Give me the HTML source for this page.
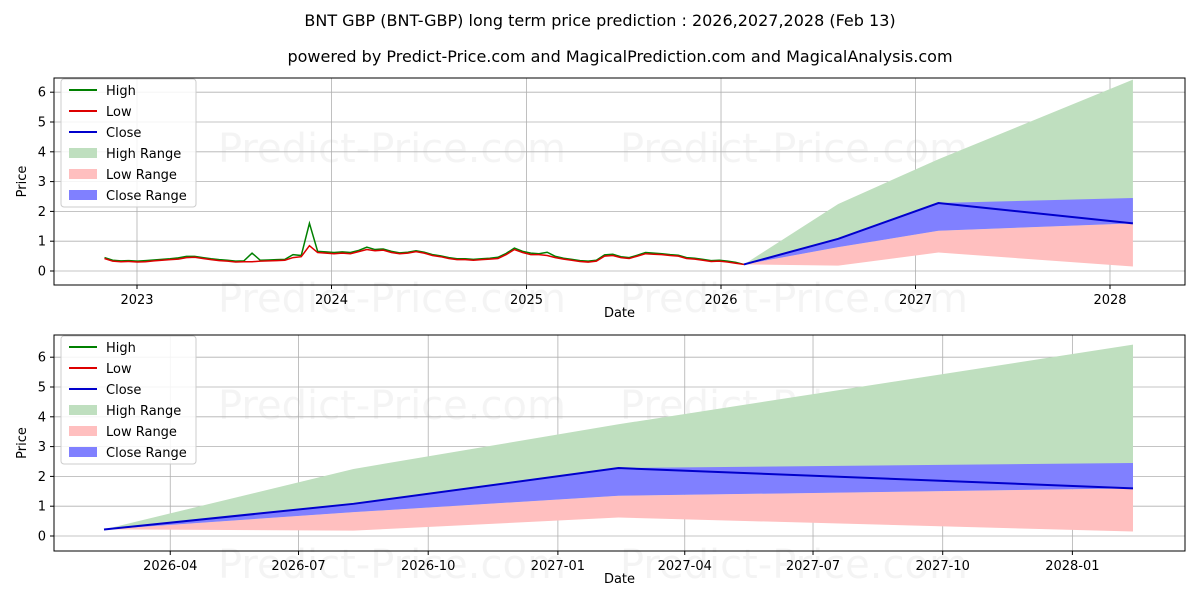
<!DOCTYPE html>
<html><head><meta charset="utf-8"><style>
body{margin:0;background:#fff;}
svg text{font-family:"DejaVu Sans","Liberation Sans",sans-serif;}
</style></head><body>
<svg id="svg" width="1200" height="600" xmlns="http://www.w3.org/2000/svg">
<rect width="1200" height="600" fill="#fff"/>
<text x="600" y="26" font-size="16" text-anchor="middle">BNT GBP (BNT-GBP) long term price prediction : 2026,2027,2028 (Feb 13)</text>
<text x="620" y="62" font-size="16" text-anchor="middle">powered by Predict-Price.com and MagicalPrediction.com and MagicalAnalysis.com</text>
<g id="top"></g>
<g id="bot"></g>
</svg>
<script>
const histStart = "2022-11-01";
const histEnd = "2026-02-13";
const histLow = [0.42,0.33,0.31,0.32,0.30,0.31,0.34,0.36,0.38,0.40,0.45,0.46,0.42,0.38,0.35,0.33,0.30,0.31,0.31,0.33,0.34,0.35,0.36,0.45,0.48,0.85,0.62,0.60,0.58,0.60,0.58,0.65,0.72,0.68,0.70,0.62,0.58,0.60,0.65,0.60,0.52,0.48,0.42,0.38,0.38,0.36,0.38,0.40,0.42,0.55,0.72,0.62,0.55,0.55,0.52,0.45,0.40,0.36,0.32,0.30,0.33,0.50,0.52,0.45,0.42,0.50,0.58,0.56,0.55,0.52,0.50,0.42,0.40,0.36,0.32,0.33,0.30,0.26,0.22];
const histHigh = [0.45,0.36,0.34,0.35,0.33,0.35,0.37,0.39,0.41,0.44,0.49,0.49,0.45,0.41,0.38,0.36,0.33,0.34,0.60,0.36,0.37,0.38,0.39,0.55,0.52,1.60,0.66,0.64,0.62,0.64,0.62,0.69,0.80,0.72,0.74,0.66,0.61,0.63,0.68,0.63,0.55,0.51,0.45,0.41,0.41,0.39,0.41,0.43,0.46,0.59,0.77,0.66,0.60,0.58,0.63,0.49,0.43,0.39,0.35,0.33,0.36,0.54,0.56,0.48,0.45,0.53,0.62,0.60,0.58,0.55,0.53,0.45,0.43,0.39,0.35,0.36,0.33,0.29,0.22];
const fcDates = ["2026-02-13","2026-08-09","2027-02-13","2028-02-13"];
const fcHigh = [0.22,2.25,3.75,6.42];
const fcClose = [0.22,1.08,2.28,1.60];
const fcCloseHi = [0.22,1.08,2.28,2.45];
const fcLowHi = [0.22,0.80,1.35,1.60];
const fcLowLo = [0.22,0.18,0.62,0.15];
const yTicks = [0,1,2,3,4,5,6];
const topTicks = ["2023","2024","2025","2026","2027","2028"];
const botTicks = ["2026-04","2026-07","2026-10","2027-01","2027-04","2027-07","2027-10","2028-01"];

const NS="http://www.w3.org/2000/svg";
function mk(parent,tag,attrs,text){const e=document.createElementNS(NS,tag);for(const k in attrs)e.setAttribute(k,attrs[k]);if(text!==undefined)e.textContent=text;parent.appendChild(e);return e;}
const T=s=>new Date(s+(s.length===7?"-01":"")+"T00:00:00Z").getTime();

function drawChart(g,cfg){
  const {L,R,Tp,B,y0,ppu,xf}=cfg;
  const y=v=>y0-v*ppu;
  [[218,Tp+84],[620,Tp+84],[218,B+27],[620,B+27]].forEach(p=>{
    const w=mk(g,'text',{x:p[0],y:p[1],'font-size':40,fill:'#000','fill-opacity':0.045},'Predict-Price.com');
    
    
  });
  yTicks.forEach(v=>{
    const gl=mk(g,'line',{x1:L,x2:R,y1:y(v),y2:y(v),stroke:'#b0b0b0','stroke-width':0.8});
    
    
    mk(g,'line',{x1:L-4,x2:L,y1:y(v),y2:y(v),stroke:'#000'});
    const t=mk(g,'text',{x:L-8,y:y(v)+4.5,'font-size':13,'text-anchor':'end'},String(v));
    
    
  });
  cfg.ticks.forEach(s=>{
    const x=xf(T(s));
    const gl=mk(g,'line',{x1:x,x2:x,y1:Tp,y2:B,stroke:'#b0b0b0','stroke-width':0.8});
    
    
    mk(g,'line',{x1:x,x2:x,y1:B,y2:B+4,stroke:'#000'});
    const t=mk(g,'text',{x:x,y:B+19,'font-size':13,'text-anchor':'middle'},s);
    
    
  });
  const fx=fcDates.map(d=>xf(T(d)));
  const band=(hi,lo,col,name)=>{
    let d='M'+fx.map((x,i)=>x+','+y(hi[i])).join('L')+'L'+fx.map((x,i)=>x+','+y(lo[i])).reverse().join('L')+'Z';
    const p=mk(g,'path',{d:d,fill:col});
    
    
  };
  band(fcHigh,fcLowHi,'#bfdfbf','high-range-band');
  band(fcLowHi,fcLowLo,'#ffbfbf','low-range-band');
  band(fcCloseHi,fcLowHi,'#8080ff','close-range-band');
  if(cfg.hist){
    const t0=T(histStart),t1=T(histEnd),n=histLow.length;
    const hx=i=>xf(t0+(t1-t0)*i/(n-1));
    const ph=mk(g,'path',{d:'M'+histHigh.map((v,i)=>hx(i)+','+y(v)).join('L'),fill:'none',stroke:'#008000','stroke-width':1.5});
    
    
    const pl=mk(g,'path',{d:'M'+histLow.map((v,i)=>hx(i)+','+y(v)).join('L'),fill:'none',stroke:'#dd0000','stroke-width':1.5});
    
    
  }
  const pc=mk(g,'path',{d:'M'+fx.map((x,i)=>x+','+y(fcClose[i])).join('L'),fill:'none',stroke:'#0000cc','stroke-width':2});
  
  
  const fr=mk(g,'rect',{x:L,y:Tp,width:R-L,height:B-Tp,fill:'none',stroke:'#000','stroke-width':1});
  
  
  const xl=mk(g,'text',{x:(L+R)/2,y:B+32,'font-size':13,'text-anchor':'middle'},'Date');
  
  
  const yl=mk(g,'text',{x:26,y:(Tp+B)/2,'font-size':13,'text-anchor':'middle',transform:'rotate(-90 26 '+((Tp+B)/2)+')'},'Price');
  
  
  const lg=mk(g,'g',{});
  
  
  const lx=L+7,ly=Tp+1;
  mk(lg,'rect',{x:lx,y:ly,width:135,height:128,rx:3,fill:'#fff','fill-opacity':0.85,stroke:'#ccc'});
  const items=[['High','line','#008000'],['Low','line','#dd0000'],['Close','line','#0000cc'],['High Range','box','#bfdfbf'],['Low Range','box','#ffbfbf'],['Close Range','box','#8080ff']];
  items.forEach((it,i)=>{
    const cy=ly+11+i*21;
    const e=mk(lg,'g',{});
    
    
    if(it[1]==='line')mk(e,'line',{x1:lx+8,x2:lx+36,y1:cy,y2:cy,stroke:it[2],'stroke-width':2});
    else mk(e,'rect',{x:lx+8,y:cy-5,width:28,height:10,fill:it[2]});
    mk(e,'text',{x:lx+45,y:cy+5,'font-size':13},it[0]);
  });
}
const t23=T("2023"),t28=T("2028");
drawChart(document.getElementById('top'),{L:54,R:1185,Tp:78,B:285,y0:271,ppu:29.8,hist:true,ticks:topTicks,
  xf:t=>137+(t-t23)/(t28-t23)*(1110-137)});
const tb0=T("2026-02-13"),tb1=T("2028-02-13");
drawChart(document.getElementById('bot'),{L:54,R:1185,Tp:335,B:551,y0:536,ppu:29.8,hist:false,ticks:botTicks,
  xf:t=>104+(t-tb0)/(tb1-tb0)*(1133-104)});
</script>
</body></html>
